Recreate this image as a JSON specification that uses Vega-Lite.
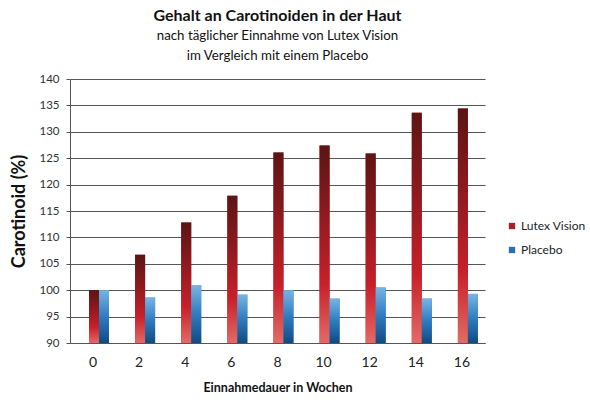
{
  "$schema": "https://vega.github.io/schema/vega-lite/v6.json",
  "autosize": {"type": "none"},
  "width": 415,
  "height": 264,
  "padding": {"left": 70, "top": 79, "right": 105, "bottom": 57},
  "background": "white",
  "config": {
    "font": "Lato",
    "view": {"stroke": null}
  },
  "title": {
    "text": "Gehalt an Carotinoiden in der Haut",
    "subtitle": ["nach täglicher Einnahme von Lutex Vision", "im Vergleich mit einem Placebo"],
    "font": "Lato",
    "fontSize": 16,
    "fontWeight": "bold",
    "color": "#111111",
    "subtitleFont": "Lato",
    "subtitleFontSize": 13.3,
    "subtitleColor": "#111111",
    "subtitleLineHeight": 20,
    "subtitlePadding": 5,
    "anchor": "middle",
    "offset": 11
  },
  "data": {
    "values": [
      {"week": "0", "series": "Lutex Vision", "value": 100.0},
      {"week": "2", "series": "Lutex Vision", "value": 106.7},
      {"week": "4", "series": "Lutex Vision", "value": 112.8},
      {"week": "6", "series": "Lutex Vision", "value": 117.9},
      {"week": "8", "series": "Lutex Vision", "value": 126.1},
      {"week": "10", "series": "Lutex Vision", "value": 127.4},
      {"week": "12", "series": "Lutex Vision", "value": 125.9},
      {"week": "14", "series": "Lutex Vision", "value": 133.6},
      {"week": "16", "series": "Lutex Vision", "value": 134.4},
      {"week": "0", "series": "Placebo", "value": 100.0},
      {"week": "2", "series": "Placebo", "value": 98.6},
      {"week": "4", "series": "Placebo", "value": 100.9},
      {"week": "6", "series": "Placebo", "value": 99.15},
      {"week": "8", "series": "Placebo", "value": 100.0},
      {"week": "10", "series": "Placebo", "value": 98.4},
      {"week": "12", "series": "Placebo", "value": 100.5},
      {"week": "14", "series": "Placebo", "value": 98.4},
      {"week": "16", "series": "Placebo", "value": 99.3}
    ]
  },
  "encoding": {
    "x": {
      "field": "week",
      "type": "ordinal",
      "sort": ["0", "2", "4", "6", "8", "10", "12", "14", "16"],
      "scale": {"paddingInner": 0, "paddingOuter": 0},
      "axis": {
        "title": "Einnahmedauer in Wochen",
        "titleFont": "Lato",
        "titleFontSize": 12.5,
        "titleFontWeight": "bold",
        "titleColor": "#111111",
        "titlePadding": 12,
        "labelAngle": 0,
        "labelFontSize": 14,
        "labelColor": "#222222",
        "labelPadding": 12,
        "ticks": false,
        "domain": true,
        "domainColor": "#555555",
        "domainWidth": 1.2,
        "grid": false
      }
    },
    "xOffset": {
      "field": "series",
      "type": "nominal",
      "scale": {"domain": ["Lutex Vision", "Placebo"], "range": [19, 39], "paddingInner": 0, "paddingOuter": 0}
    },
    "y": {
      "field": "value",
      "type": "quantitative",
      "scale": {"domain": [90, 140], "zero": false, "nice": false},
      "axis": {
        "title": "Carotinoid (%)",
        "titleFont": "Lato",
        "titleFontSize": 18,
        "titleFontWeight": "bold",
        "titleColor": "#111111",
        "titlePadding": 10,
        "values": [90, 95, 100, 105, 110, 115, 120, 125, 130, 135, 140],
        "labelFontSize": 11.5,
        "labelColor": "#333333",
        "labelPadding": 7,
        "tickSize": 4,
        "tickColor": "#555555",
        "domain": true,
        "domainColor": "#555555",
        "grid": true,
        "gridColor": "#555555",
        "gridWidth": 1.2
      }
    },
    "y2": {"datum": 90}
  },
  "layer": [
    {
      "mark": {"type": "bar"},
      "encoding": {
        "color": {
          "field": "series",
          "type": "nominal",
          "scale": {"domain": ["Lutex Vision", "Placebo"], "range": ["#a8202a", "#2a6db0"]},
          "legend": {
            "title": null,
            "orient": "none",
            "legendX": 436,
            "legendY": 141,
            "symbolType": "square",
            "symbolSize": 40,
            "symbolStrokeWidth": 0,
            "labelFontSize": 12,
            "labelColor": "#222222",
            "labelOffset": 3,
            "rowPadding": 12
          }
        }
      }
    },
    {
      "transform": [{"filter": "datum.series === 'Lutex Vision'"}],
      "mark": {
        "type": "bar",
        "fill": {
          "gradient": "linear",
          "x1": 0, "y1": 0, "x2": 0, "y2": 1,
          "stops": [
            {"offset": 0, "color": "#5c1414"},
            {"offset": 0.35, "color": "#8e1a1f"},
            {"offset": 0.7, "color": "#c8202a"},
            {"offset": 1, "color": "#e46a66"}
          ]
        }
      }
    },
    {
      "transform": [{"filter": "datum.series === 'Placebo'"}],
      "mark": {
        "type": "bar",
        "fill": {
          "gradient": "linear",
          "x1": 0, "y1": 0, "x2": 0, "y2": 1,
          "stops": [
            {"offset": 0, "color": "#78b4e4"},
            {"offset": 0.5, "color": "#2f7cc0"},
            {"offset": 1, "color": "#104a82"}
          ]
        }
      }
    }
  ]
}
